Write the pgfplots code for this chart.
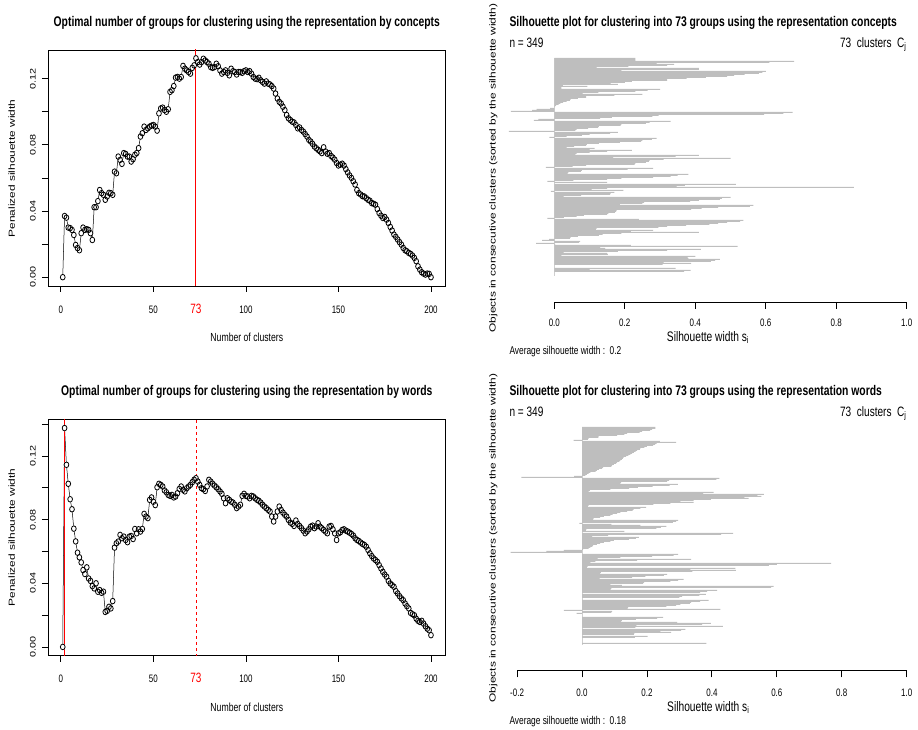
\documentclass[border=0pt]{standalone}
\usepackage{fontspec}
\setmainfont{Liberation Sans}
\newfontfamily\nfont{Liberation Sans}[FakeStretch=0.74]
\usepackage{graphicx}
\usepackage{pgfplots}
\usepackage{pgfplotstable}
\pgfplotsset{compat=1.18}
\definecolor{silgray}{RGB}{190,190,190}
\definecolor{rred}{RGB}{255,0,0}
\newcommand\tickfont{\nfont\fontsize{10.8}{12}\selectfont}
\newcommand\ytl[1]{\scalebox{1}[0.74]{\fontsize{10.8}{12}\selectfont #1}}
\newcommand\vlab[1]{\scalebox{1}[0.74]{\fontsize{11.9}{13}\selectfont #1}}
\newcommand\ttl[1]{{\nfont\bfseries\fontsize{14}{16}\selectfont #1}}

\pgfplotstableread[row sep=\\]{k v\\
1 0\\2 0.037\\3 0.036\\4 0.030\\5 0.0297\\6 0.0286\\7 0.0255\\8 0.0195\\9 0.0176\\10 0.0163\\
11 0.0266\\12 0.030\\13 0.0286\\14 0.029\\15 0.0286\\16 0.0266\\17 0.0225\\18 0.0423\\19 0.0423\\20 0.046\\
21 0.0527\\22 0.0508\\23 0.0498\\24 0.0468\\25 0.0488\\26 0.051\\27 0.0508\\28 0.0498\\29 0.0638\\30 0.0628\\
31 0.0729\\32 0.0709\\33 0.0685\\34 0.075\\35 0.0745\\36 0.0729\\37 0.0729\\38 0.0699\\39 0.0713\\40 0.074\\
41 0.075\\42 0.078\\43 0.085\\44 0.087\\45 0.091\\46 0.089\\47 0.090\\48 0.091\\49 0.0916\\50 0.092\\
51 0.091\\52 0.0886\\53 0.099\\54 0.102\\55 0.1025\\56 0.101\\57 0.100\\58 0.1015\\59 0.112\\60 0.113\\
61 0.1155\\62 0.1206\\63 0.121\\64 0.120\\65 0.121\\66 0.1277\\67 0.126\\68 0.125\\69 0.124\\70 0.123\\
71 0.1265\\72 0.128\\73 0.1323\\74 0.130\\75 0.1285\\76 0.130\\77 0.132\\78 0.131\\79 0.130\\80 0.129\\
81 0.127\\82 0.1265\\83 0.127\\84 0.129\\85 0.1275\\86 0.125\\87 0.123\\88 0.124\\89 0.125\\90 0.1235\\
91 0.122\\92 0.126\\93 0.1245\\94 0.124\\95 0.1225\\96 0.124\\97 0.124\\98 0.1235\\99 0.1245\\100 0.125\\
101 0.124\\102 0.1245\\103 0.123\\104 0.121\\105 0.120\\106 0.1197\\107 0.1205\\108 0.119\\109 0.118\\110 0.117\\
111 0.1183\\112 0.117\\113 0.1165\\114 0.1155\\115 0.114\\116 0.111\\117 0.108\\118 0.106\\119 0.105\\120 0.103\\
121 0.101\\122 0.098\\123 0.096\\124 0.095\\125 0.094\\126 0.0935\\127 0.092\\128 0.090\\129 0.0905\\130 0.089\\
131 0.088\\132 0.0865\\133 0.085\\134 0.083\\135 0.082\\136 0.0806\\137 0.079\\138 0.078\\139 0.077\\140 0.076\\
141 0.075\\142 0.0785\\143 0.076\\144 0.0746\\145 0.075\\146 0.0733\\147 0.0723\\148 0.071\\149 0.069\\150 0.0675\\
151 0.068\\152 0.0686\\153 0.0675\\154 0.0653\\155 0.0633\\156 0.0615\\157 0.060\\158 0.058\\159 0.056\\160 0.0527\\
161 0.0508\\162 0.050\\163 0.049\\164 0.0488\\165 0.0478\\166 0.0468\\167 0.0462\\168 0.0448\\169 0.0444\\170 0.0438\\
171 0.0412\\172 0.0388\\173 0.0372\\174 0.0358\\175 0.0364\\176 0.0348\\177 0.0328\\178 0.0304\\179 0.0282\\180 0.0258\\
181 0.0244\\182 0.0228\\183 0.0212\\184 0.0197\\185 0.0177\\186 0.0163\\187 0.0157\\188 0.0147\\189 0.0141\\190 0.0131\\
191 0.0117\\192 0.0097\\193 0.0066\\194 0.0046\\195 0.003\\196 0.0022\\197 0.0016\\198 0.0022\\199 0.002\\200 0.0\\
}\concepts

\pgfplotstableread[row sep=\\]{k v\\
1 0\\2 0.1375\\3 0.1144\\4 0.1025\\5 0.0928\\6 0.0865\\7 0.0743\\8 0.0663\\9 0.0592\\10 0.0563\\
11 0.0531\\12 0.0483\\13 0.0458\\14 0.050\\15 0.043\\16 0.0415\\17 0.0382\\18 0.0368\\19 0.040\\20 0.0347\\
21 0.0357\\22 0.0340\\23 0.0347\\24 0.022\\25 0.0227\\26 0.0252\\27 0.0242\\28 0.0288\\29 0.0624\\30 0.0651\\
31 0.0662\\32 0.0704\\33 0.0683\\34 0.0693\\35 0.0672\\36 0.0658\\37 0.0693\\38 0.0697\\39 0.0678\\40 0.0741\\
41 0.0714\\42 0.0739\\43 0.0725\\44 0.0741\\45 0.0836\\46 0.0819\\47 0.0809\\48 0.0924\\49 0.0939\\50 0.0912\\
51 0.0891\\52 0.1003\\53 0.1025\\54 0.1018\\55 0.1008\\56 0.0983\\57 0.0972\\58 0.0955\\59 0.0949\\60 0.0955\\
61 0.0939\\62 0.0945\\63 0.0966\\64 0.0993\\65 0.1008\\66 0.0987\\67 0.0977\\68 0.0997\\69 0.1008\\70 0.1018\\
71 0.1035\\72 0.105\\73 0.106\\74 0.1039\\75 0.1018\\76 0.0997\\77 0.0991\\78 0.098\\79 0.1008\\80 0.105\\
81 0.1039\\82 0.1025\\83 0.1014\\84 0.1003\\85 0.0991\\86 0.0977\\87 0.0962\\88 0.0934\\89 0.0903\\90 0.0934\\
91 0.0924\\92 0.0913\\93 0.0907\\94 0.0893\\95 0.0872\\96 0.0882\\97 0.0893\\98 0.0949\\99 0.0962\\100 0.0949\\
101 0.0945\\102 0.0934\\103 0.0949\\104 0.0945\\105 0.0934\\106 0.0924\\107 0.0918\\108 0.0907\\109 0.0893\\110 0.0882\\
111 0.0872\\112 0.0861\\113 0.0851\\114 0.0819\\115 0.0788\\116 0.0819\\117 0.0851\\118 0.0882\\119 0.0861\\120 0.0844\\
121 0.083\\122 0.0819\\123 0.0798\\124 0.0781\\125 0.0773\\126 0.076\\127 0.0794\\128 0.0773\\129 0.076\\130 0.0746\\
131 0.0731\\132 0.0714\\133 0.0725\\134 0.0739\\135 0.0756\\136 0.0762\\137 0.0746\\138 0.0756\\139 0.0777\\140 0.0756\\
141 0.0746\\142 0.0735\\143 0.0725\\144 0.0714\\145 0.0756\\146 0.076\\147 0.0739\\148 0.0714\\149 0.0672\\150 0.0714\\
151 0.072\\152 0.0735\\153 0.0739\\154 0.0731\\155 0.0725\\156 0.0718\\157 0.071\\158 0.070\\159 0.0683\\160 0.0672\\
161 0.0666\\162 0.0656\\163 0.0647\\164 0.0641\\165 0.063\\166 0.0609\\167 0.0588\\168 0.0571\\169 0.0556\\170 0.0546\\
171 0.0535\\172 0.0514\\173 0.0493\\174 0.0472\\175 0.0455\\176 0.0441\\177 0.0415\\178 0.0399\\179 0.0388\\180 0.0378\\
181 0.0351\\182 0.0336\\183 0.0319\\184 0.0305\\185 0.0294\\186 0.0273\\187 0.0256\\188 0.0242\\189 0.0214\\190 0.0206\\
191 0.0199\\192 0.0178\\193 0.0164\\194 0.0157\\195 0.0164\\196 0.0147\\197 0.0130\\198 0.0115\\199 0.0105\\200 0.0074\\
}\words

\pgfplotstableread[row sep=\\]{s\\
0.23\\0.23\\0.23\\0.68\\0.61\\0.29\\0.34\\0.32\\0.21\\0.12\\
0.41\\0.41\\0.19\\0.60\\0.59\\0.58\\0.54\\0.51\\0.49\\0.43\\
0.375\\0.32\\0.32\\0.22\\0.20\\0.16\\0.18\\0.024\\0.094\\0.02\\
0.02\\0.30\\0.265\\0.23\\0.125\\0.08\\0.25\\0.17\\0.09\\0.09\\
0.067\\0.046\\0.044\\0.035\\0.025\\0.017\\0.012\\0.005\\0.002\\0\\
-0.012\\-0.05\\-0.063\\-0.123\\0.676\\0.65\\0.595\\0.296\\0.278\\0.163\\
0.13\\-0.045\\-0.058\\0.33\\0.27\\0.26\\0.19\\0.188\\0.126\\0.124\\
0.096\\0.063\\0.06\\-0.129\\0.18\\0.158\\0.10\\0.078\\0.035\\-0.014\\
0.29\\0.277\\0.25\\0.246\\0.186\\0.126\\0.092\\0.09\\0.056\\0.035\\
0.114\\0.10\\0.22\\0.15\\0.10\\0.063\\0.06\\0.41\\0.344\\0.167\\
0.50\\0.31\\0.27\\0.268\\0.26\\0.23\\0.228\\0.09\\0.052\\-0.024\\
0.28\\0.208\\0.078\\0.075\\0.04\\0.038\\0.38\\0.35\\0.33\\0.28\\
0.19\\0.15\\0.054\\-0.02\\0.15\\0\\0.515\\0.37\\0.347\\0.85\\
0.15\\0.106\\0.196\\-0.01\\0.17\\0.16\\0.158\\0.076\\0.026\\0.50\\
0.475\\0.47\\0.41\\0.385\\0.255\\0.25\\0.186\\0.565\\0.555\\0.465\\
0.418\\0.388\\0.177\\0.175\\0.172\\0.153\\0.15\\0.084\\0.063\\0.027\\
-0.02\\0.24\\0.536\\0.527\\0.49\\0.465\\0.44\\0.374\\0.32\\0.295\\
0.12\\0.118\\0.28\\0.217\\0.41\\0.19\\0.137\\0.126\\0.067\\0.046\\
0.044\\-0.015\\-0.035\\0.073\\0.07\\-0.052\\0.002\\0.217\\0.52\\0.13\\
0.144\\0.416\\0.32\\0.18\\0.026\\0.15\\0.152\\0.02\\0.40\\0.378\\
0.38\\0.47\\0.456\\0.444\\0.31\\0.388\\0.307\\0\\0\\0\\
0.344\\0.10\\0.387\\0.368\\0\\0\\0\\0\\
}\silA

\pgfplotstableread[row sep=\\]{s\\
0.226\\0.226\\0.216\\0.21\\0.185\\0.177\\0.139\\0.13\\0.108\\0.051\\
0.05\\0.02\\0.018\\-0.026\\0.24\\0.29\\0.23\\0.225\\0.219\\0.20\\
0.192\\0.18\\0.178\\0.17\\0.165\\0.16\\0.154\\0.149\\0.143\\0.136\\
0.128\\0.126\\0.123\\0.118\\0.115\\0.108\\0.105\\0.098\\0.093\\0.09\\
0.065\\0.062\\0.052\\0.046\\0.042\\0.026\\0.02\\0.015\\0.01\\-0.024\\
-0.187\\0.423\\0.414\\0.268\\0.262\\0.12\\0.118\\0.295\\0.27\\0.217\\
0.172\\0.145\\0.087\\0.024\\0.02\\0.405\\0.373\\0.56\\0.54\\0.552\\
0.50\\0.513\\0.397\\0.344\\0.303\\0.344\\0.272\\0.22\\0.02\\0.018\\
0.197\\0.18\\0.159\\0.156\\0.139\\0.118\\0.108\\0.094\\0.087\\0.067\\
0.056\\0.036\\0.034\\0.296\\0.29\\0.28\\-0.008\\0.09\\0.18\\0.26\\
0.243\\0.229\\0.013\\0.012\\0.13\\0\\0.465\\0.428\\0.08\\0.031\\
0.175\\0.166\\0.144\\0.098\\0.087\\0.067\\0.056\\0.046\\0.034\\0.032\\
0.026\\0.02\\0.003\\-0.056\\-0.11\\-0.22\\0\\0.296\\0.282\\0.216\\
0.118\\0.048\\0.336\\0.17\\0.041\\0.026\\0.767\\0.60\\0.575\\0.017\\
0.015\\0.472\\0.334\\0.474\\0.34\\0.058\\0.056\\0.262\\0.252\\0.195\\
0.154\\0.054\\0.313\\0.296\\0.272\\0.191\\0.188\\0.087\\0.123\\0.59\\
0.582\\0.09\\0.088\\0.416\\0.385\\0.364\\0\\0.381\\0.361\\0.308\\
0.30\\0\\0\\0.39\\0.364\\0.336\\0.332\\0.303\\0.29\\0.26\\
0.142\\0.14\\0.426\\-0.056\\0.093\\0.09\\-0.017\\0\\0\\0\\
0.25\\0.231\\0.166\\0.123\\0.12\\0.293\\0.397\\0.37\\0.167\\0.434\\
0.164\\0\\0.318\\0.305\\0.241\\0.274\\0.161\\0.16\\0\\0.202\\
0.163\\0\\0\\0\\0\\0\\0.383\\0\\
}\silB

\pgfplotsset{
  leftpanel/.style={
    scale only axis, width=397.7pt, xmin=-6.96, xmax=207.96,
    axis line style={line width=0.8pt},
    tick align=outside, tick pos=left,
    major tick length=6pt, minor tick length=6pt,
    tick style={black, line width=0.8pt},
    xtick={0,50,100,150,200}, xticklabels={0,50,100,150,200},
    xticklabel style={font=\tickfont, anchor=base, inner sep=0pt},
    yticklabel style={rotate=90, anchor=south, inner sep=0pt},
    yticklabel shift=6pt,
    ytick={0,0.04,0.08,0.12},
    yticklabels={\ytl{0.00},\ytl{0.04},\ytl{0.08},\ytl{0.12}},
    grid=none,
    extra x ticks={73},
    extra x tick labels={\textcolor{rred}{\fontsize{13.5}{14}\selectfont 73}},
    extra x tick style={grid=none, tick style={draw=none}},
  },
  silbars/.style={scale only axis, hide axis, clip=false},
  silticks/.style={
    scale only axis, height=20pt, ymin=0, ymax=1,
    axis x line=bottom, axis y line=none,
    x axis line style={-, line width=0.9pt},
    tick align=outside, major tick length=6.7pt,
    tick style={black, line width=0.9pt},
    xticklabel style={font=\tickfont, anchor=base, inner sep=0pt},
  },
}

\begin{document}
\begin{tikzpicture}
\useasboundingbox (0pt,0pt) rectangle (918pt,729pt);

% ---------------- top left
\begin{axis}[leftpanel, at={(48pt,443pt)}, anchor=south west, height=236pt,
  ymin=-0.0053, ymax=0.1373, minor ytick={0.02,0.06,0.10}, xticklabel shift=21.3pt]
\addplot[black, line width=0.5pt] table[x=k,y=v]{\concepts};
\addplot[only marks, mark=*, mark size=2.8pt, mark options={xscale=0.85, draw=white, fill=white, line width=0.75pt}] table[x=k,y=v]{\concepts};
\addplot[only marks, mark=o, mark size=2.8pt, mark options={xscale=0.85, draw=black, line width=0.8pt}] table[x=k,y=v]{\concepts};
\addplot[draw=rred, color=rred, line width=1pt, mark=none] coordinates {(73,-0.01) (73,0.2)};
\end{axis}

% ---------------- bottom left
\begin{axis}[leftpanel, at={(48pt,73.3pt)}, anchor=south west, height=236.4pt,
  ymin=-0.0055, ymax=0.143, minor ytick={0.02,0.06,0.10,0.14}, xticklabel shift=20.6pt]
\addplot[black, line width=0.5pt] table[x=k,y=v]{\words};
\addplot[only marks, mark=*, mark size=2.8pt, mark options={xscale=0.85, draw=white, fill=white, line width=0.75pt}] table[x=k,y=v]{\words};
\addplot[only marks, mark=o, mark size=2.8pt, mark options={xscale=0.85, draw=black, line width=0.8pt}] table[x=k,y=v]{\words};
\addplot[draw=rred, color=rred, line width=1pt, mark=none] coordinates {(2,-0.01) (2,0.2)};
\addplot[draw=rred, color=rred, line width=0.9pt, mark=none, dash pattern=on 3pt off 3pt] coordinates {(73,-0.01) (73,0.2)};
\end{axis}

% ---------------- top right bars
\begin{axis}[silbars, at={(505.0pt,671.2pt)}, anchor=north west, width=405.3pt, height=244.2pt,
  xmin=-0.14, xmax=1.01, ymin=-243.7, ymax=0.5]
\addplot[silgray!70, line width=0.5pt] coordinates {(0,0) (0,-218)};
\addplot[xbar, bar width=1, bar shift=0pt, fill=silgray, draw=none] table[x=s, y index=0, y expr=-\coordindex]{\silA};
\end{axis}
\begin{axis}[silticks, at={(554.3pt,427pt)}, anchor=south west, width=352.4pt,
  xmin=0, xmax=1, xtick={0,0.2,0.4,0.6,0.8,1}, xticklabels={0.0,0.2,0.4,0.6,0.8,1.0}, xticklabel shift=18.3pt]
\end{axis}

% ---------------- bottom right bars
\begin{axis}[silbars, at={(504.1pt,302.2pt)}, anchor=north west, width=405.9pt, height=243.9pt,
  xmin=-0.24, xmax=1.01, ymin=-243.4, ymax=0.5]
\addplot[silgray!70, line width=0.5pt] coordinates {(0,0) (0,-218)};
\addplot[xbar, bar width=1, bar shift=0pt, fill=silgray, draw=none] table[x=s, y index=0, y expr=-\coordindex]{\silB};
\end{axis}
\begin{axis}[silticks, at={(517.1pt,58.3pt)}, anchor=south west, width=389.6pt,
  xmin=-0.2, xmax=1, xtick={-0.2,0,0.2,0.4,0.6,0.8,1}, xticklabels={-0.2,0.0,0.2,0.4,0.6,0.8,1.0}, xticklabel shift=19.3pt]
\end{axis}

% ---------------- texts
\node[anchor=base] at (246.8pt,702.5pt) {\ttl{Optimal number of groups for clustering using the representation by concepts}};
\node[anchor=base] at (246.8pt,333pt) {\ttl{Optimal number of groups for clustering using the representation by words}};
\node[anchor=base] at (246.8pt,387pt) {\nfont\fontsize{11.7}{13}\selectfont Number of clusters};
\node[anchor=base] at (246.8pt,18pt) {\nfont\fontsize{11.7}{13}\selectfont Number of clusters};
\node[rotate=90, inner sep=0pt] at (11.7pt,560.5pt) {\vlab{Penalized silhouette width}};
\node[rotate=90, inner sep=0pt] at (11.7pt,191.5pt) {\vlab{Penalized silhouette width}};

\node[anchor=base west, inner sep=0pt] at (509.3pt,702.3pt) {\ttl{Silhouette plot for clustering into 73 groups using the representation concepts}};
\node[anchor=base west, inner sep=0pt] at (509.3pt,333pt) {\ttl{Silhouette plot for clustering into 73 groups using the representation words}};
\node[anchor=base west, inner sep=0pt] at (509.3pt,681.5pt) {\nfont\fontsize{13.6}{15}\selectfont n = 349};
\node[anchor=base west, inner sep=0pt] at (509.3pt,312.5pt) {\nfont\fontsize{13.6}{15}\selectfont n = 349};
\node[anchor=base east, inner sep=0pt] at (906.7pt,681.5pt) {\nfont\fontsize{13.6}{15}\selectfont 73\ \ clusters\ \ C\textsubscript{j}};
\node[anchor=base east, inner sep=0pt] at (906.7pt,312.5pt) {\nfont\fontsize{13.6}{15}\selectfont 73\ \ clusters\ \ C\textsubscript{j}};
\node[anchor=base, inner sep=0pt] at (708pt,387.3pt) {\nfont\fontsize{13.8}{15}\selectfont Silhouette width s\textsubscript{i}};
\node[anchor=base, inner sep=0pt] at (708.3pt,18pt) {\nfont\fontsize{13.8}{15}\selectfont Silhouette width s\textsubscript{i}};
\node[anchor=base west, inner sep=0pt] at (509.3pt,374pt) {\nfont\fontsize{11.3}{13}\selectfont Average silhouette width :\ \ 0.2};
\node[anchor=base west, inner sep=0pt] at (509.3pt,4.7pt) {\nfont\fontsize{11.3}{13}\selectfont Average silhouette width :\ \ 0.18};
\node[rotate=90, inner sep=0pt] at (493.3pt,561pt) {\vlab{Objects in consecutive clusters (sorted by the silhouette width)}};
\node[rotate=90, inner sep=0pt] at (493.3pt,191pt) {\vlab{Objects in consecutive clusters (sorted by the silhouette width)}};
\end{tikzpicture}
\end{document}
